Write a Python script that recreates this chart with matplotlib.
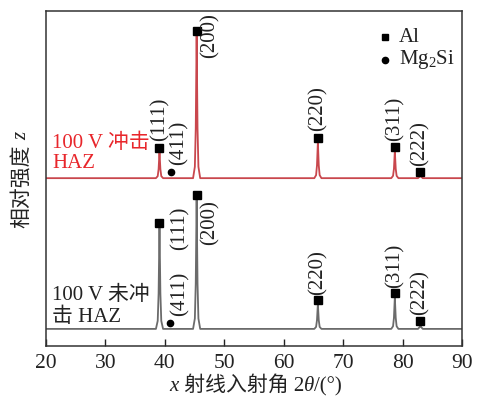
import matplotlib
matplotlib.use("Agg")
import matplotlib.pyplot as plt
from matplotlib.offsetbox import TextArea, HPacker, AnchoredOffsetbox

fam = ['Liberation Serif', 'Noto Sans CJK SC']
plt.rcParams['font.family'] = fam
plt.rcParams['mathtext.fontset'] = 'custom'
plt.rcParams['mathtext.rm'] = 'Liberation Serif'
plt.rcParams['mathtext.it'] = 'Liberation Serif:italic'

# XRD profile of the impacted (red) sample
red_x = [20, 38.5, 38.8, 38.95, 39.1, 39.25, 39.4, 39.7,
         44.75, 45.05, 45.2, 45.35, 45.5, 45.65, 45.95,
         65.15, 65.45, 65.6, 65.75, 65.9, 66.05, 66.35,
         78.1, 78.4, 78.55, 78.7, 78.85, 79.0, 79.3,
         82.6, 82.85, 83.0, 83.15, 83.4, 90]
red_y = [50.1, 50.1, 50.7, 52.8, 57.9, 52.8, 50.7, 50.1,
         50.1, 53.5, 65.0, 92.8, 65.0, 53.5, 50.1,
         50.1, 51.0, 53.9, 60.9, 53.9, 51.0, 50.1,
         50.1, 50.8, 52.9, 58.2, 52.9, 50.8, 50.1,
         50.1, 50.5, 51.0, 50.5, 50.1, 50.1]

# XRD profile of the non-impacted (gray) sample
gray_x = red_x
gray_y = [5.1, 5.1, 7.5, 15.7, 35.5, 15.7, 7.5, 5.1,
          5.1, 8.2, 18.7, 43.9, 18.7, 8.2, 5.1,
          5.1, 5.7, 7.7, 12.5, 7.7, 5.7, 5.1,
          5.1, 5.9, 8.4, 14.6, 8.4, 5.9, 5.1,
          5.1, 5.6, 6.3, 5.6, 5.1, 5.1]

al_x = [39.1, 45.35, 65.75, 78.7, 83.0]
al_labels = ['(111)', '(200)', '(220)', '(311)', '(222)']
red_al_y = [59.1, 94.0, 62.1, 59.4, 51.9]
gray_al_y = [36.7, 45.1, 13.7, 15.8, 7.5]

mg_label = '(411)'
red_mg = (41.1, 51.9)
gray_mg = (40.9, 6.9)

# label anchors (x, y of bottom of rotated text)
red_lab_x = [39.1, 47.6, 65.75, 78.7, 83.0]
red_lab_y = [61.2, 99.3, 64.2, 61.2, 53.7]
red_mg_lab = (42.3, 54.0)
gray_lab_x = [42.5, 47.6, 65.75, 78.7, 83.0]
gray_lab_y = [28.7, 30.1, 15.2, 17.3, 9.3]
gray_mg_lab = (42.5, 9.0)

red = '#c9474d'
gray = '#6b6b6b'
ink = '#222222'
fs = 15

fig = plt.figure(figsize=(4.78, 3.97), dpi=100)
ax = fig.add_axes([0.0962, 0.1285, 0.8703, 0.8438])

ax.plot(red_x, red_y, color=red, lw=1.3)
ax.plot(gray_x, gray_y, color=gray, lw=1.3)

ax.plot(al_x, red_al_y, 's', color='black', ms=6, ls='none')
ax.plot(al_x, gray_al_y, 's', color='black', ms=6, ls='none')
ax.plot(*red_mg, 'o', color='black', ms=4.5)
ax.plot(*gray_mg, 'o', color='black', ms=4.5)

for x, y, t in zip(red_lab_x, red_lab_y, al_labels):
    va = 'top' if t == '(200)' else 'bottom'
    ax.text(x, y, t, rotation=90, ha='center', va=va, fontsize=fs, color=ink)
ax.text(*red_mg_lab, mg_label, rotation=90, ha='center', va='bottom', fontsize=fs, color=ink)
for x, y, t in zip(gray_lab_x, gray_lab_y, al_labels):
    ax.text(x, y, t, rotation=90, ha='center', va='bottom', fontsize=fs, color=ink)
ax.text(*gray_mg_lab, mg_label, rotation=90, ha='center', va='bottom', fontsize=fs, color=ink)

# sample names
ax.text(21.0, 60.6, '100 V 冲击', color='#e8262b', fontsize=fs, va='center', ha='left')
ax.text(21.0, 54.6, 'HAZ', color='#e8262b', fontsize=fs, va='center', ha='left')
ax.text(21.0, 15.2, '100 V 未冲', color=ink, fontsize=fs, va='center', ha='left')
ax.text(21.0, 8.7, '击 HAZ', color=ink, fontsize=fs, va='center', ha='left')

# legend
ax.plot(77.0, 92.2, 's', color='black', ms=5)
ax.plot(77.0, 85.4, 'o', color='black', ms=4.5)
ax.text(79.4, 92.2, 'Al', fontsize=fs, va='center', ha='left', color=ink)
ax.text(79.4, 85.4, 'Mg$_2$Si', fontsize=fs, va='center', ha='left', color=ink)

ax.set_xlim(20, 90)
ax.set_ylim(0, 100)
ax.set_xticks([20, 30, 40, 50, 60, 70, 80, 90])
ax.set_yticks([])
ax.tick_params(axis='x', direction='in', length=5, width=1, labelsize=15.5, pad=6, colors=ink)
for s in ax.spines.values():
    s.set_linewidth(1.1)
    s.set_color('#333333')

# x label with italic x and theta
parts = [('x', 'italic'), (' 射线入射角 2', 'normal'), ('θ', 'italic'), ('/(°)', 'normal')]
boxes = [TextArea(t, textprops=dict(fontsize=fs, style=st, family=fam, color=ink)) for t, st in parts]
xlab = AnchoredOffsetbox(loc='center', child=HPacker(children=boxes, align='baseline', pad=0, sep=0),
                         bbox_to_anchor=(0.535, 0.027), bbox_transform=fig.transFigure,
                         frameon=False, pad=0, borderpad=0)
fig.add_artist(xlab)

# y label with italic z
ylab = fig.text(0.046, 0.532, '相对强度', rotation=90, ha='center', va='center', fontsize=fs, color=ink)
ax.annotate('z', xy=(0.5, 1), xycoords=ylab, xytext=(0, 3), textcoords='offset points',
            rotation=90, ha='center', va='bottom', fontsize=fs, style='italic', color=ink)

fig.savefig('out.png', dpi=100)
